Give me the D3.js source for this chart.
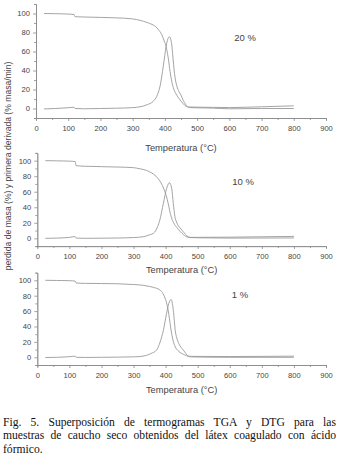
<!DOCTYPE html>
<html>
<head>
<meta charset="utf-8">
<script src="https://cdn.jsdelivr.net/npm/d3@7"></script>
<style>
body { margin: 0; background: #fff; width: 339px; height: 463px; overflow: hidden; position: relative; }
svg { position: absolute; left: 0; top: 0; }
.caption { position: absolute; left: 3px; width: 333px; top: 416px; font-family: "Liberation Serif", "Times New Roman", serif; font-size: 11.6px; color: #111; }
.caption div { line-height: 13.3px; height: 13.3px; white-space: nowrap; }
.caption .j { text-align: justify; text-align-last: justify; }
.tick text { font-family: "Liberation Sans", Arial, sans-serif; }
</style>
</head>
<body>
<div id="chart"></div>
<div class="caption">
  <div class="j">Fig. 5. Superposición de termogramas TGA y DTG para las</div>
  <div class="j">muestras de caucho seco obtenidos del látex coagulado con ácido</div>
  <div>fórmico.</div>
</div>
<script>
// [temperatura, valor]
var tga20 = [[25,100],[60,99.8],[100,99.4],[118,98.9],[121,96.6],[150,96.3],[200,95.9],[250,95.4],[300,94.3],[323,92.8],[345,90.5],[360,88.5],[370,86.6],[380,83],[390,78],[398,71],[404,65],[408,58],[411,52],[416,39],[421,29],[428,20],[437,14],[447,9],[457,5],[465,2.5],[473,1.6],[500,1.4],[550,1.2],[600,1],[700,1.8],[800,2.8]]
var dtg20 = [[25,-0.5],[60,0],[100,0.8],[118,1.3],[121,0],[150,-0.3],[200,0],[250,0.3],[300,0.9],[323,1.8],[345,4],[364,7.7],[375,13],[385,23.5],[395,44.5],[404,65.6],[409,73],[414,75.5],[418,73],[421,68],[424,58],[427,46],[431,34],[436,25],[442,19],[450,14],[457,8.5],[464,4.5],[470,2],[476,1],[490,0.8],[550,0.4],[600,-0.3],[700,0],[800,0]]

var tga10 = [[25,100],[60,99.8],[100,99.4],[118,98.8],[121,93.5],[150,92.8],[200,92.3],[250,91.8],[300,91],[320,89.5],[340,87.5],[355,84.5],[370,80],[382,74],[390,68],[397,61],[402,55],[408,45],[413,35],[418,27],[425,20],[435,14],[445,9],[455,5],[463,2.5],[470,1.5],[480,1.2],[600,1.5],[700,2],[800,2.5]]
var dtg10 = [[25,0],[60,0.3],[100,1.2],[118,2.3],[121,0.3],[150,0],[200,0.2],[250,0.4],[300,1],[330,2],[350,4.5],[362,6.4],[375,15],[382,23.6],[393,45],[403,64],[408,69.5],[411.5,71.7],[415,70],[419,64],[424,45],[429,28],[434,21],[440,16],[448,12],[455,8.5],[462,5],[470,2],[476,1],[500,0.7],[600,0.3],[800,0.5]]

var tga1 = [[25,100],[60,99.8],[100,99.5],[118,99],[121,96.5],[150,96],[200,95.8],[250,95.5],[300,94.5],[330,93.5],[350,92],[365,90.5],[380,88],[390,84],[398,77],[404,69],[408,61],[412,50],[416,38],[420,28],[425,19],[432,12],[440,8],[450,5],[460,3],[470,1.5],[480,1.2],[600,1],[700,1.2],[800,1.5]]
var dtg1 = [[25,-0.3],[60,0],[100,0.8],[118,1.5],[121,0],[150,-0.2],[200,0],[250,0.2],[300,0.6],[320,1],[340,2.5],[355,5],[372,9.5],[383,20],[393,35],[403,57],[410,70],[417,75],[421,70],[424,61],[427,48],[430,35],[435,25],[441,18],[448,13],[455,9.5],[463,5],[470,1.5],[480,0.5],[600,0],[800,0]]

var labels = ['20 %', '10 %', '1 %']
var xMajor = d3.range(0, 901, 100)
var xMinor = d3.range(50, 900, 100)
var yMajor = d3.range(0, 101, 20)
var yMinor = [-10, 10, 30, 50, 70, 90, 110]

var panels = [
    {tga: tga20, dtg: dtg20, label: labels[0], left: 36, right: 326, bottom: 118, top: 4, lx: 245, ly: 38, ty: 148},
    {tga: tga10, dtg: dtg10, label: labels[1], left: 37.3, right: 326, bottom: 246.1, top: 152.9, lx: 243, ly: 182, ty: 270},
    {tga: tga1, dtg: dtg1, label: labels[2], left: 37.3, right: 326, bottom: 365, top: 272.6, lx: 240, ly: 295, ty: 390}
]

var svg = d3.select("#chart")
    .append("svg")
    .attr("width", 339)
    .attr("height", 410)

var axisColor = "#8a8a8a"
var textColor = "#444"
var lineColor = "#9a9a9a"

panels.forEach(function(p) {
    var x = d3.scaleLinear().domain([0, 900]).range([p.left, p.right])
    var y = d3.scaleLinear().domain([-10, 110]).range([p.bottom, p.top])

    var g = svg.append("g")

    // minor ticks
    g.append("g")
        .attr("transform", "translate(0," + p.bottom + ")")
        .call(d3.axisBottom(x).tickValues(xMinor).tickSize(2).tickFormat(""))
    g.append("g")
        .attr("transform", "translate(" + p.left + ",0)")
        .call(d3.axisLeft(y).tickValues(yMinor).tickSize(2).tickFormat(""))

    // X axis
    g.append("g")
        .attr("transform", "translate(0," + p.bottom + ")")
        .call(d3.axisBottom(x).tickValues(xMajor).tickSize(3).tickSizeOuter(0).tickPadding(5))

    // Y axis
    g.append("g")
        .attr("transform", "translate(" + p.left + ",0)")
        .call(d3.axisLeft(y).tickValues(yMajor).tickSize(3).tickSizeOuter(0).tickPadding(3))

    g.selectAll(".domain").attr("stroke", axisColor).attr("stroke-width", 0.8)
    g.selectAll(".tick line").attr("stroke", axisColor).attr("stroke-width", 0.8)
    g.selectAll(".tick text").attr("fill", textColor).style("font-size", "7.6px")

    var line = d3.line()
        .x(function(d) { return x(d[0]) })
        .y(function(d) { return y(d[1]) })
        .curve(d3.curveMonotoneX)

    g.append("path").datum(p.tga)
        .attr("d", line).attr("fill", "none")
        .attr("stroke", lineColor).attr("stroke-width", 0.9)
    g.append("path").datum(p.dtg)
        .attr("d", line).attr("fill", "none")
        .attr("stroke", lineColor).attr("stroke-width", 0.9)

    // sample label
    g.append("text")
        .attr("x", p.lx).attr("y", p.ly)
        .attr("dy", "0.35em")
        .style("text-anchor", "middle")
        .style("font-family", "Liberation Sans, Arial, sans-serif")
        .style("font-size", "9.5px")
        .attr("fill", textColor)
        .text(p.label)

    // X axis title
    g.append("text")
        .attr("x", (p.left + p.right) / 2).attr("y", p.ty)
        .attr("dy", "0.35em")
        .style("text-anchor", "middle")
        .style("font-family", "Liberation Sans, Arial, sans-serif")
        .style("font-size", "9.3px")
        .attr("fill", textColor)
        .text("Temperatura (°C)")
})

// shared Y title
svg.append("text")
    .attr("transform", "translate(8,166) rotate(-90)")
    .attr("dy", "0.35em")
    .style("text-anchor", "middle")
    .style("font-family", "Liberation Sans, Arial, sans-serif")
    .style("font-size", "8.6px")
    .attr("fill", textColor)
    .text("perdida de masa (%) y primera derivada (% masa/min)")
</script>
</body>
</html>
